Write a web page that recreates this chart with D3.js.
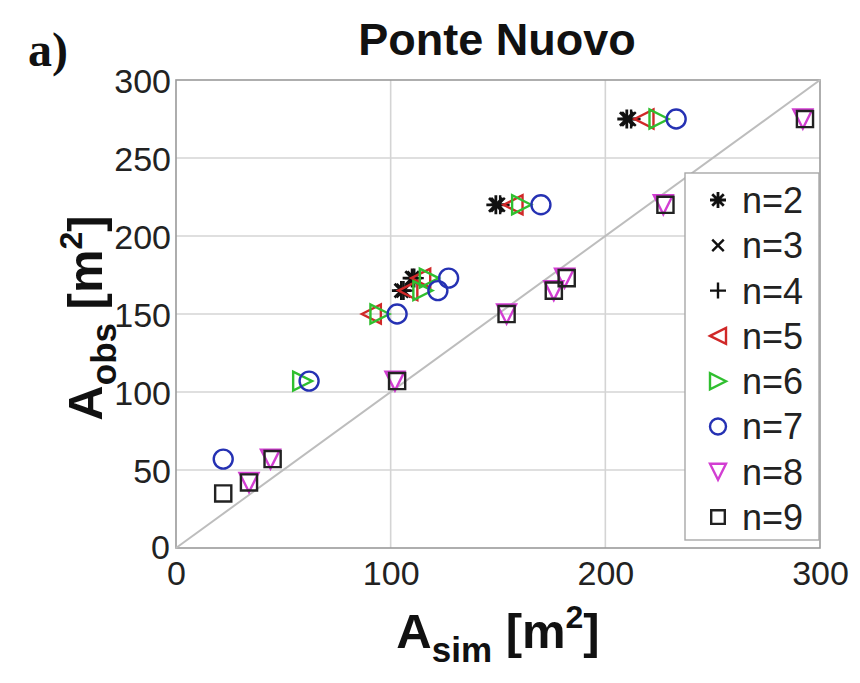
<!DOCTYPE html>
<html>
<head>
<meta charset="utf-8">
<script src="https://cdn.jsdelivr.net/npm/d3@7/dist/d3.min.js"></script>
<style>
  html, body { margin: 0; padding: 0; background: #fff; }
  svg { display: block; }
</style>
</head>
<body>
<svg id="chart" width="860" height="683"></svg>
<script>
// Observed areas (m²) shared by the measured cross sections
const obsValues = [275, 220, 173, 165, 150, 107, 57, 42, 35];

// Simulated areas (m²) for each model order n; null = no point
const simN2 = [210, 149, 110, 105, null, null, null, null, null];
const simN3 = [211, 150, 111, 106, null, null, null, null, null];
const simN4 = [212, 151, 111, 106, null, null, null, null, null];
const simN5 = [218, 157, 114, 108, 91, null, null, null, null];
const simN6 = [225, 161, 118, 115, 95, 59, null, null, null];
const simN7 = [233, 170, 127, 122, 103, 62, 22, null, null];
const simN8 = [292, 227, 181, 176, 154, 102, 44, 34, null];
const simN9 = [293, 228, 182, 176, 154, 103, 45, 34, 22];

const seriesNames = ["n=2", "n=3", "n=4", "n=5", "n=6", "n=7", "n=8", "n=9"];
const seriesSim = [simN2, simN3, simN4, simN5, simN6, simN7, simN8, simN9];
const markerKinds = ["star", "x", "plus", "tleft", "tright", "circle", "tdown", "square"];
const markerColors = ["#111", "#111", "#111", "#d02828", "#2fbf2f", "#2531b3", "#d23ed2", "#222"];

const xTicks = [0, 100, 200, 300];
const yTicks = [0, 50, 100, 150, 200, 250, 300];

const svg = d3.select("#chart");
const plot = { left: 176, right: 820, top: 80, bottom: 548 };

const x = d3.scaleLinear().domain([0, 300]).range([plot.left, plot.right]);
const y = d3.scaleLinear().domain([0, 300]).range([plot.bottom, plot.top]);

// grid
const grid = svg.append("g");
grid.selectAll("line.gx").data(xTicks.slice(1, -1)).join("line")
  .attr("x1", d => x(d)).attr("x2", d => x(d))
  .attr("y1", plot.top).attr("y2", plot.bottom)
  .attr("stroke", "#d4d4d4").attr("stroke-width", 1.6);
grid.selectAll("line.gy").data(yTicks.slice(1, -1)).join("line")
  .attr("x1", plot.left).attr("x2", plot.right)
  .attr("y1", d => y(d)).attr("y2", d => y(d))
  .attr("stroke", "#d4d4d4").attr("stroke-width", 1.6);

// box
svg.append("rect")
  .attr("x", plot.left).attr("y", plot.top)
  .attr("width", plot.right - plot.left).attr("height", plot.bottom - plot.top)
  .attr("fill", "none").attr("stroke", "#9a9a9a").attr("stroke-width", 1.6);

// 1:1 line
svg.append("line")
  .attr("x1", x(0)).attr("y1", y(0)).attr("x2", x(300)).attr("y2", y(300))
  .attr("stroke", "#bdbdbd").attr("stroke-width", 2);

// axes
const font = "'Liberation Sans', Arial, sans-serif";
const xAxis = svg.append("g").attr("transform", `translate(0,${plot.bottom})`)
  .call(d3.axisBottom(x).tickValues(xTicks).tickSize(0).tickPadding(8));
const yAxis = svg.append("g").attr("transform", `translate(${plot.left},0)`)
  .call(d3.axisLeft(y).tickValues(yTicks).tickSize(0).tickPadding(5));
[xAxis, yAxis].forEach(a => {
  a.select(".domain").remove();
  a.selectAll("text").attr("font-family", font).attr("font-size", 34).attr("fill", "#222");
});
xAxis.selectAll("text").attr("dy", "0.85em");
yAxis.selectAll("text").attr("dy", "0.36em");
yAxis.selectAll(".tick").filter(d => d === 0).select("text").attr("dy", "0.3em").attr("x", -6);

// marker shapes
function markerPath(kind, s) {
  const h = s / 2;
  switch (kind) {
    case "star": {
      const a = h * 0.72;
      return `M${-h},0L${h},0M0,${-h}L0,${h}M${-a},${-a}L${a},${a}M${-a},${a}L${a},${-a}`;
    }
    case "x": { const a = h * 0.72; return `M${-a},${-a}L${a},${a}M${-a},${a}L${a},${-a}`; }
    case "plus": return `M${-h},0L${h},0M0,${-h}L0,${h}`;
    case "tleft": return `M${-h},0L${h},${-h}L${h},${h}Z`;
    case "tright": return `M${h},0L${-h},${-h}L${-h},${h}Z`;
    case "tdown": return `M0,${h}L${-h},${-h}L${h},${-h}Z`;
    case "square": { const a = h * 0.85; return `M${-a},${-a}H${a}V${a}H${-a}Z`; }
  }
}
function drawMarker(g, kind, color, cx, cy, size) {
  if (kind === "circle") {
    g.append("circle").attr("cx", cx).attr("cy", cy).attr("r", size / 2)
      .attr("fill", "none").attr("stroke", color).attr("stroke-width", 2.4);
  } else {
    g.append("path").attr("d", markerPath(kind, size))
      .attr("transform", `translate(${cx},${cy})`)
      .attr("fill", "none").attr("stroke", color)
      .attr("stroke-width", kind === "star" ? 2.8 : 2.4);
  }
}

// points
const pts = svg.append("g");
seriesSim.forEach((sims, i) => {
  sims.forEach((s, j) => {
    if (s === null) return;
    drawMarker(pts, markerKinds[i], markerColors[i], x(s), y(obsValues[j]), 19);
  });
});

// legend
const leg = svg.append("g");
leg.append("rect").attr("x", 685).attr("y", 173).attr("width", 134).attr("height", 367)
  .attr("fill", "#fff").attr("stroke", "#a8a8a8").attr("stroke-width", 1.4);
seriesNames.forEach((name, i) => {
  const ly = 200 + i * 45.3;
  drawMarker(leg, markerKinds[i], markerColors[i], 718, ly, 16);
  leg.append("text").attr("x", 742).attr("y", ly).attr("dy", "0.36em")
    .attr("font-family", font).attr("font-size", 36).attr("fill", "#222").text(name);
});

// title and panel tag
svg.append("text").attr("x", 497).attr("y", 55).attr("text-anchor", "middle")
  .attr("font-family", font).attr("font-size", 45).attr("font-weight", "bold")
  .attr("fill", "#111").text("Ponte Nuovo");
svg.append("text").attr("x", 28).attr("y", 66)
  .attr("font-family", "'Liberation Serif', 'Times New Roman', serif").attr("font-size", 48)
  .attr("font-weight", "bold").attr("fill", "#111").text("a)");

// axis labels
function axisLabel(g, sub) {
  const t = g.append("text").attr("font-family", font).attr("font-weight", "bold")
    .attr("font-size", 49).attr("fill", "#111").attr("text-anchor", "middle");
  t.append("tspan").text("A");
  t.append("tspan").attr("font-size", 35).attr("dy", 14).text(sub);
  t.append("tspan").attr("dy", -14).text(" [m");
  t.append("tspan").attr("font-size", 32).attr("dy", -20).text("2");
  t.append("tspan").attr("dy", 20).text("]");
  return t;
}
axisLabel(svg.append("g").attr("transform", "translate(498,648)"), "sim");
axisLabel(svg.append("g").attr("transform", "translate(102,318) rotate(-90)"), "obs");
</script>
</body>
</html>
